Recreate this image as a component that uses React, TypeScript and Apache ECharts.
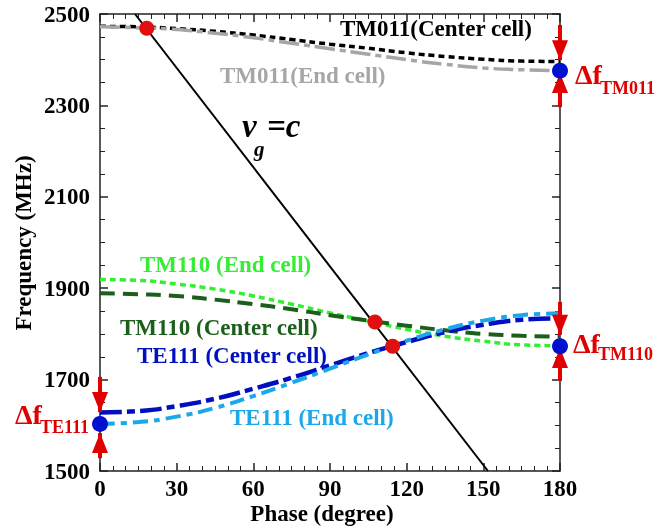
import React, { useEffect, useRef } from "react";
import * as echarts from "echarts";

const phases = [0, 15, 30, 45, 60, 75, 90, 105, 120, 135, 150, 165, 180];
const tm011Center = [2473, 2472, 2468, 2462, 2454, 2444, 2434, 2425, 2415, 2407, 2401, 2397, 2396];
const tm011End = [2472, 2470, 2466, 2458, 2448, 2436, 2424, 2412, 2400, 2390, 2382, 2378, 2376];
const tm110End = [1919, 1917, 1909, 1898, 1883, 1865, 1846, 1828, 1810, 1795, 1784, 1776, 1774];
const tm110Center = [1889, 1887, 1883, 1875, 1865, 1854, 1841, 1829, 1818, 1808, 1800, 1796, 1794];
const te111Center = [1628, 1631, 1642, 1658, 1680, 1704, 1731, 1758, 1782, 1804, 1820, 1831, 1834];
const te111End = [1603, 1607, 1619, 1638, 1664, 1693, 1724, 1755, 1785, 1810, 1829, 1841, 1845];

const lightLinePhase = [13.7, 151.8];
const lightLineFreq = [2500, 1500];

const redPhase = [18.3, 107.6, 114.5];
const redFreq = [2469, 1826, 1773];
const bluePhase = [180, 180, 0];
const blueFreq = [2376, 1773, 1603];

const dfPhase = [180, 180, 0];
const dfUpperTail = [2476, 1870, 1706];
const dfUpperTip = [2399, 1798, 1629];
const dfLowerTail = [2296, 1697, 1528];
const dfLowerTip = [2371, 1769, 1583];

const xTicks = { min: 0, max: 180, interval: 30 };
const yTicks = { min: 1500, max: 2500, interval: 200 };

const FONT = "Liberation Serif";
const RED = "#e00000";

function axisCommon(showLabel: boolean, minorSplit: number, margin: number) {
  return {
    axisLine: { show: true, onZero: false, lineStyle: { color: "#222", width: 1.5 } },
    axisTick: { show: true, inside: true, length: 8, lineStyle: { color: "#222", width: 1.5 } },
    minorTick: { show: true, splitNumber: minorSplit, length: 5, lineStyle: { color: "#222", width: 1 } },
    axisLabel: {
      show: showLabel,
      margin,
      fontFamily: FONT,
      fontWeight: "bold",
      fontSize: 23,
      color: "#000",
      formatter: (v: number) => String(v),
    },
    splitLine: { show: false },
  };
}

function txt(text: string, x: number, y: number, size: number, fill: string, extra: any = {}) {
  return {
    type: "text",
    x,
    y,
    rotation: extra.rotation || 0,
    z: 10,
    style: {
      text,
      fontFamily: FONT,
      fontWeight: "bold",
      fontStyle: extra.italic ? "italic" : "normal",
      fontSize: size,
      fill,
      align: extra.align || "left",
      verticalAlign: "middle",
    },
  };
}

export default function App() {
  const ref = useRef<HTMLDivElement>(null);
  useEffect(() => {
    if (!ref.current) return;
    const chart = echarts.init(ref.current, undefined, { renderer: "svg" });
    const curve = (name: string, vals: number[], color: string, width: number, dash: number[]) => ({
      name,
      type: "line",
      data: phases.map((p, i) => [p, vals[i]]),
      smooth: true,
      symbol: "none",
      showSymbol: false,
      lineStyle: { color, width, type: dash },
      z: 3,
    });
    const shafts: any[] = [];
    const downHeads: any[] = [];
    const upHeads: any[] = [];
    dfPhase.forEach((p, i) => {
      shafts.push({
        type: "line",
        data: [[p, dfUpperTail[i]], [p, dfUpperTip[i]]],
        symbol: "none",
        clip: false,
        lineStyle: { color: RED, width: 4 },
        z: 5,
      });
      shafts.push({
        type: "line",
        data: [[p, dfLowerTail[i]], [p, dfLowerTip[i]]],
        symbol: "none",
        clip: false,
        lineStyle: { color: RED, width: 4 },
        z: 5,
      });
      downHeads.push([p, dfUpperTip[i]]);
      upHeads.push([p, dfLowerTip[i]]);
    });

    chart.setOption({
      animation: false,
      grid: { left: 100, right: 95, top: 14, bottom: 58, containLabel: false },
      xAxis: [
        { type: "value", position: "bottom", ...xTicks, ...axisCommon(true, 6, 6) },
        { type: "value", position: "top", ...xTicks, ...axisCommon(false, 6, 6) },
      ],
      yAxis: [
        { type: "value", position: "left", ...yTicks, ...axisCommon(true, 4, 10) },
        { type: "value", position: "right", ...yTicks, ...axisCommon(false, 4, 10) },
      ],
      series: [
        curve("TM011 Center", tm011Center, "#000000", 3.5, [6, 4]),
        curve("TM011 End", tm011End, "#a6a6a6", 3.5, [20, 5, 6, 5]),
        curve("TM110 End", tm110End, "#33ee33", 3.5, [6, 4]),
        curve("TM110 Center", tm110Center, "#1c5e1c", 4, [15, 8]),
        curve("TE111 Center", te111Center, "#0010c0", 4.5, [22, 5, 8, 5]),
        curve("TE111 End", te111End, "#1aa8e8", 4, [15, 6, 6, 6]),
        {
          type: "line",
          data: lightLinePhase.map((p, i) => [p, lightLineFreq[i]]),
          symbol: "none",
          lineStyle: { color: "#000", width: 2 },
          z: 4,
        },
        ...shafts,
        {
          type: "scatter",
          data: downHeads,
          symbol: "path://M0,0L16,0L8,20Z",
          symbolSize: [16, 20],
          symbolOffset: [0, "-50%"],
          itemStyle: { color: RED, opacity: 1 },
          clip: false,
          z: 6,
        },
        {
          type: "scatter",
          data: upHeads,
          symbol: "path://M8,0L16,20L0,20Z",
          symbolSize: [16, 20],
          symbolOffset: [0, "50%"],
          itemStyle: { color: RED, opacity: 1 },
          clip: false,
          z: 6,
        },
        {
          type: "scatter",
          data: redPhase.map((p, i) => [p, redFreq[i]]),
          symbol: "circle",
          symbolSize: 15,
          itemStyle: { color: "#e01010", opacity: 1 },
          clip: false,
          z: 7,
        },
        {
          type: "scatter",
          data: bluePhase.map((p, i) => [p, blueFreq[i]]),
          symbol: "circle",
          symbolSize: 16,
          itemStyle: { color: "#0010d0", opacity: 1 },
          clip: false,
          z: 7,
        },
      ],
      graphic: [
        txt("Phase (degree)", 322, 513, 23, "#000", { align: "center" }),
        txt("Frequency (MHz)", 23, 243, 23, "#000", { align: "center", rotation: Math.PI / 2 }),
        txt("TM011(Center cell)", 340, 28, 23, "#000"),
        txt("TM011(End cell)", 220, 75, 23, "#a6a6a6"),
        txt("TM110 (End cell)", 140, 264, 23, "#33ee33"),
        txt("TM110 (Center cell)", 120, 327, 23, "#1c5e1c"),
        txt("TE111 (Center cell)", 137, 355, 23, "#0010c0"),
        txt("TE111 (End cell)", 230, 417, 23, "#1aa8e8"),
        txt("v", 242, 126, 33, "#000", { italic: true }),
        txt("g", 254, 149, 21, "#000", { italic: true }),
        txt("=c", 267, 126, 33, "#000", { italic: true }),
        txt("Δf", 575, 74, 28, RED),
        txt("TM011", 600, 88, 18, RED),
        txt("Δf", 573, 343, 28, RED),
        txt("TM110", 598, 354, 18, RED),
        txt("Δf", 15, 414, 28, RED),
        txt("TE111", 40, 427, 18, RED),
      ],
    });
    return () => chart.dispose();
  }, []);
  return <div ref={ref} style={{ position: "fixed", left: 0, top: 0, width: 655, height: 529 }} />;
}
